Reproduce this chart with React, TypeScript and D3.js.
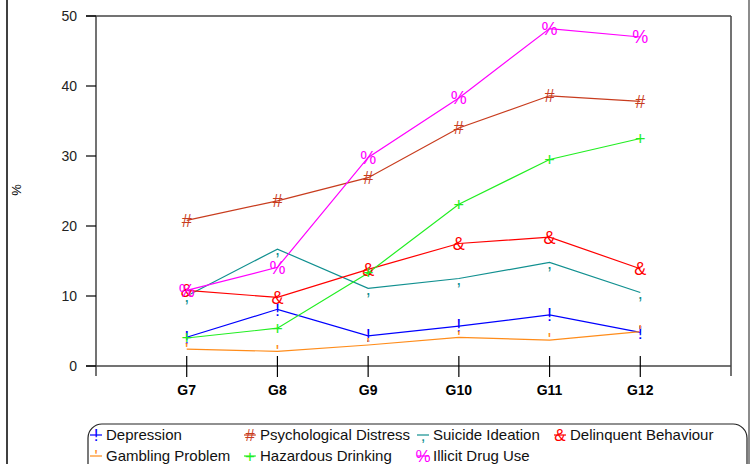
import React, { useRef, useEffect } from "react";
import * as d3 from "d3";

// Datos
const grades = ["G7", "G8", "G9", "G10", "G11", "G12"];
const yTicks = [0, 10, 20, 30, 40, 50];

const depression = [4.1, 8.1, 4.3, 5.7, 7.3, 4.8];
const psychDistress = [20.8, 23.6, 26.9, 34.0, 38.6, 37.8];
const suicideIdeation = [10.0, 16.7, 11.1, 12.5, 14.8, 10.5];
const delinquent = [10.8, 9.8, 13.8, 17.5, 18.4, 13.9];
const gambling = [2.4, 2.1, 3.0, 4.1, 3.7, 4.9];
const hazardous = [4.0, 5.4, 13.3, 23.1, 29.5, 32.5];
const illicitDrug = [10.8, 14.1, 29.8, 38.3, 48.2, 47.0];

const series = [
  { name: "Depression", values: depression, color: "#0000ff", sym: "!" },
  { name: "Psychological Distress", values: psychDistress, color: "#c83c1e", sym: "#" },
  { name: "Suicide Ideation", values: suicideIdeation, color: "#119090", sym: "," },
  { name: "Delinquent Behaviour", values: delinquent, color: "#ff0000", sym: "&" },
  { name: "Gambling Problem", values: gambling, color: "#ff8c1a", sym: "'" },
  { name: "Hazardous Drinking", values: hazardous, color: "#22ee22", sym: "+" },
  { name: "Illicit Drug Use", values: illicitDrug, color: "#ff00ff", sym: "%" },
];

const W = 751;
const H = 464;

const Chart = () => {
  const ref = useRef<SVGSVGElement>(null);

  useEffect(() => {
    const container = ref.current;
    if (!container) return;
    d3.select(container).selectChildren().remove();

    const svg = d3
      .select(container)
      .append("g")
      .style("font-family", "'Liberation Sans', Arial, sans-serif");

    const left = 96,
      right = 731,
      top = 16,
      bottom = 366;

    const x = d3.scaleLinear().domain([0, grades.length + 1]).range([left, right]);
    const y = d3.scaleLinear().domain([0, 50]).range([bottom, top]);

    // Marco exterior
    svg.append("line").attr("x1", 7).attr("x2", 7).attr("y1", 0).attr("y2", H)
      .attr("stroke", "#000").attr("stroke-width", 1.5);
    svg.append("line").attr("x1", 749).attr("x2", 749).attr("y1", 0).attr("y2", H)
      .attr("stroke", "#666").attr("stroke-width", 1.5);

    // Ejes
    const axisColor = "#444";
    svg.append("line").attr("x1", left - 10).attr("x2", right).attr("y1", top).attr("y2", top)
      .attr("stroke", axisColor).attr("stroke-width", 1.3);
    svg.append("line").attr("x1", left - 10).attr("x2", right).attr("y1", bottom).attr("y2", bottom)
      .attr("stroke", axisColor).attr("stroke-width", 1.5);
    svg.append("line").attr("x1", left).attr("x2", left).attr("y1", top).attr("y2", bottom + 10)
      .attr("stroke", axisColor).attr("stroke-width", 1.5);
    svg.append("line").attr("x1", right).attr("x2", right).attr("y1", top).attr("y2", bottom + 10)
      .attr("stroke", axisColor).attr("stroke-width", 1.5);

    // Ticks Y
    const yt = svg.append("g");
    yt.selectAll("line").data(yTicks).enter().append("line")
      .attr("x1", left - 10).attr("x2", left)
      .attr("y1", (d) => y(d)).attr("y2", (d) => y(d))
      .attr("stroke", "#000").attr("stroke-width", 1.2);
    yt.selectAll("text").data(yTicks).enter().append("text")
      .attr("x", left - 19).attr("y", (d) => y(d)).attr("dy", "0.35em")
      .attr("text-anchor", "end").style("font-size", "14px").attr("fill", "#222")
      .text((d) => d);

    // Ticks X
    const xt = svg.append("g");
    xt.selectAll("line").data(grades).enter().append("line")
      .attr("x1", (d, i) => x(i + 1)).attr("x2", (d, i) => x(i + 1))
      .attr("y1", bottom - 10).attr("y2", bottom + 11)
      .attr("stroke", "#000").attr("stroke-width", 1.2);
    xt.selectAll("text").data(grades).enter().append("text")
      .attr("x", (d, i) => x(i + 1)).attr("y", bottom + 29)
      .attr("text-anchor", "middle").style("font-size", "14px").style("font-weight", "bold")
      .text((d) => d);

    // Rótulo eje Y
    svg.append("text")
      .attr("transform", `translate(21, 190) rotate(-90)`)
      .attr("text-anchor", "middle").style("font-size", "13px")
      .text("%");

    // Líneas
    const line = d3.line<number>().x((d, i) => x(i + 1)).y((d) => y(d));
    series.forEach((s) => {
      svg.append("path").datum(s.values).attr("d", line)
        .attr("fill", "none").attr("stroke", s.color).attr("stroke-width", 1.2);
    });
    series.forEach((s) => {
      svg.append("g").selectAll("text").data(s.values).enter().append("text")
        .attr("x", (d, i) => x(i + 1)).attr("y", (d) => y(d)).attr("dy", "0.35em")
        .attr("text-anchor", "middle").style("font-size", "18px").attr("fill", s.color)
        .text(s.sym);
    });

    // Leyenda
    svg.append("rect").attr("x", 88).attr("y", 424).attr("width", 659).attr("height", 60)
      .attr("rx", 14).attr("ry", 14).attr("fill", "none").attr("stroke", "#222").attr("stroke-width", 1.2);
    const colX = [96, 250, 423, 560];
    const legend = svg.append("g").selectAll("g").data(series).enter().append("g")
      .attr("transform", (d, i) => `translate(${colX[i % 4]}, ${i < 4 ? 435 : 456})`);
    legend.append("line").attr("x1", -6).attr("x2", 6).attr("y1", 0).attr("y2", 0)
      .attr("stroke", (d) => d.color).attr("stroke-width", 1.2);
    legend.append("text").attr("x", 0).attr("y", 0).attr("dy", "0.35em")
      .attr("text-anchor", "middle").style("font-size", "17px").attr("fill", (d) => d.color)
      .text((d) => d.sym);
    legend.append("text").attr("x", 10).attr("y", 0).attr("dy", "0.35em")
      .style("font-size", "15px").attr("fill", "#111")
      .text((d) => d.name);
  }, []);

  return (
    <svg
      ref={ref}
      width={W}
      height={H}
      style={{ position: "absolute", left: 0, top: 0, background: "#fff" }}
    />
  );
};

export default function App() {
  return <Chart />;
}
